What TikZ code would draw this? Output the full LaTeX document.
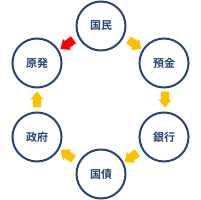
\documentclass[tikz,border=0pt]{standalone}
\usepackage{fontspec}
\newfontfamily\cjk{Noto Sans CJK JP Bold}
\usetikzlibrary{shapes.arrows}
\definecolor{navy}{RGB}{38,68,118}
\definecolor{gold}{RGB}{255,192,0}
\definecolor{redarr}{RGB}{255,0,0}
\tikzset{
  ring/.style={circle, draw=navy, line width=2pt, minimum size=49pt, inner sep=0pt,
    font=\cjk\fontsize{11pt}{12pt}\selectfont, text=navy},
  blk/.style={single arrow, fill=gold, draw=none, minimum height=16pt,
    single arrow head extend=2.5pt, single arrow tip angle=80, inner xsep=0pt, inner ysep=4pt},
}
\begin{document}
\begin{tikzpicture}[x=1pt,y=-1pt]
\useasboundingbox (0,0) rectangle (200,200);
\node[ring] (kokumin) at (101,26) {国民};
\node[ring] (yokin) at (164,63) {預金};
\node[ring] (ginko) at (164,137) {銀行};
\node[ring] (kokusai) at (101,174) {国債};
\node[ring] (seifu) at (37,137) {政府};
\node[ring] (genpatsu) at (37,63) {原発};
\node[blk, rotate=-35] (a1) at (133,43) {};
\node[blk, rotate=-90] (a2) at (165,97) {};
\node[blk, rotate=-145] (a3) at (133,156) {};
\node[blk, rotate=145] (a4) at (69,156) {};
\node[blk, rotate=90] (a5) at (37,102) {};
\node[blk, fill=redarr, rotate=-145] (a6) at (69,43) {};
\end{tikzpicture}
\end{document}
